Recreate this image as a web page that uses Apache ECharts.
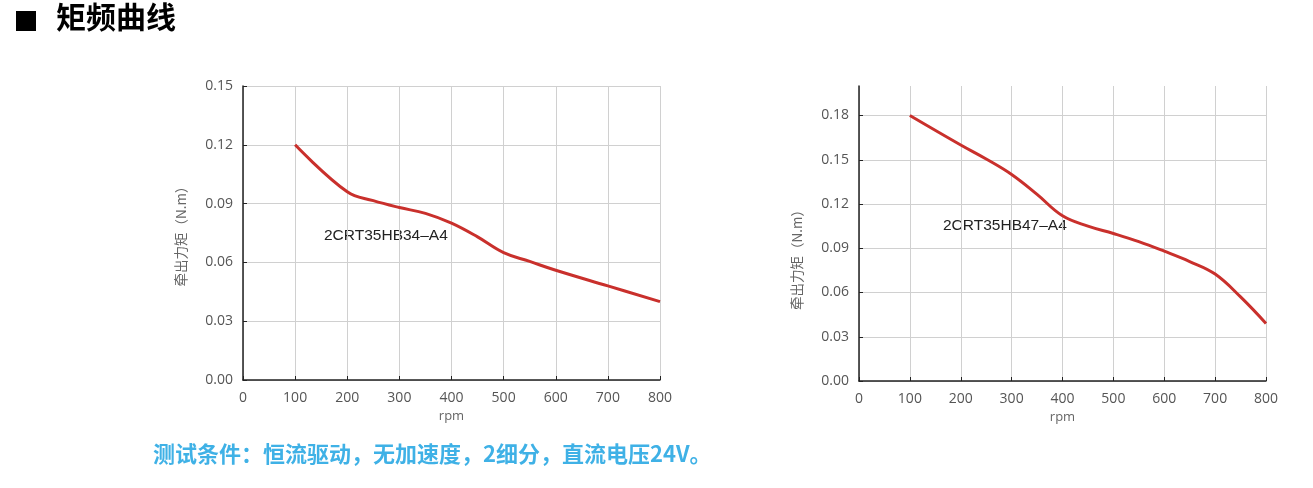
<!DOCTYPE html>
<html><head><meta charset="utf-8">
<script src="https://cdn.jsdelivr.net/npm/echarts@6/dist/echarts.min.js"></script>
<style>html,body{margin:0;padding:0;background:#fff}#c{width:1313px;height:488px}</style>
</head><body><div id="c"></div>
<script>
const rpmA = [100,200,250,300,350,400,450,500,550,600,700,800];
const torqueA = [0.120,0.096,0.0915,0.088,0.085,0.080,0.073,0.065,0.0605,0.056,0.048,0.040];
const rpmB = [100,200,250,300,350,400,450,500,550,600,650,700,750,800];
const torqueB = [0.180,0.160,0.1505,0.140,0.1265,0.112,0.105,0.100,0.0945,0.088,0.081,0.0725,0.057,0.039];
const xTicks = [0,100,200,300,400,500,600,700,800];
const nameA = '2CRT35HB34\u2013A4';
const nameB = '2CRT35HB47\u2013A4';
const titleText = '矩频曲线';
const noteText = '测试条件：恒流驱动，无加速度，2细分，直流电压24V。';
const yName = '牵出力矩（N.m）';

const chart = echarts.init(document.getElementById('c'));
const labelStyle = {color:'#555', fontSize:14, fontFamily:'Open Sans'};
function xAxis(idx){
  return {type:'value', gridIndex:idx, min:xTicks[0], max:xTicks[xTicks.length-1], interval:100,
    name:'rpm', nameLocation:'middle', nameGap:26,
    nameTextStyle:{color:'#666', fontSize:13, fontFamily:'Open Sans'},
    axisLine:{show:true, lineStyle:{color:'#222', width:1.5}},
    axisTick:{show:true, inside:true, length:4, lineStyle:{color:'#222'}},
    axisLabel:Object.assign({margin:11}, labelStyle),
    splitLine:{show:true, lineStyle:{color:'#d0d0d0', width:1}}};
}
function yAxis(idx, max, extra){
  return Object.assign({type:'value', gridIndex:idx, min:0, max:max, interval:0.03,
    name:yName, nameLocation:'middle', nameGap:55, nameRotate:90,
    nameTextStyle:{color:'#666', fontSize:13.5, fontFamily:'Noto Sans CJK SC'},
    axisLine:{show:true, lineStyle:{color:'#222', width:1.5}},
    axisTick:{show:true, inside:true, length:4, lineStyle:{color:'#222'}},
    axisLabel:Object.assign({margin:10, formatter:v=>v.toFixed(2)}, labelStyle),
    splitLine:{show:true, lineStyle:{color:'#d0d0d0', width:1}}}, extra||{});
}
chart.setOption({
  animation:false,
  grid:[
    {left:243, right:653, top:86, bottom:108},
    {left:859, right:47, top:86, bottom:107}
  ],
  xAxis:[xAxis(0), xAxis(1)],
  yAxis:[
    yAxis(0, 0.15),
    yAxis(1, 0.2, {
      axisLabel:Object.assign({margin:10, formatter:v=>v.toFixed(2), showMaxLabel:false}, labelStyle),
      splitLine:{show:true, showMaxLine:false, lineStyle:{color:'#d0d0d0', width:1}},
      nameTextStyle:{color:'#666', fontSize:13.5, fontFamily:'Noto Sans CJK SC', padding:[0,46,0,0]}
    })
  ],
  series:[
    {type:'line', xAxisIndex:0, yAxisIndex:0, smooth:0.4, symbol:'none',
     lineStyle:{color:'#c9302c', width:3}, data:rpmA.map((r,i)=>[r,torqueA[i]])},
    {type:'line', xAxisIndex:1, yAxisIndex:1, smooth:0.4, symbol:'none',
     lineStyle:{color:'#c9302c', width:3}, data:rpmB.map((r,i)=>[r,torqueB[i]])}
  ],
  graphic:[
    {type:'rect', shape:{x:16, y:11, width:20, height:20}, style:{fill:'#000'}},
    {type:'text', left:56, top:2, style:{text:titleText, fill:'#000', font:'bold 30px "Noto Sans CJK SC"'}},
    {type:'text', left:324, top:228, style:{text:nameA, fill:'#222', font:'15.5px "Liberation Sans"'}},
    {type:'text', left:943, top:218, style:{text:nameB, fill:'#222', font:'15.5px "Liberation Sans"'}},
    {type:'text', left:153, top:443, style:{text:noteText, fill:'#3fb1e6', font:'bold 22px "Noto Sans CJK SC"'}}
  ]
});
</script></body></html>
